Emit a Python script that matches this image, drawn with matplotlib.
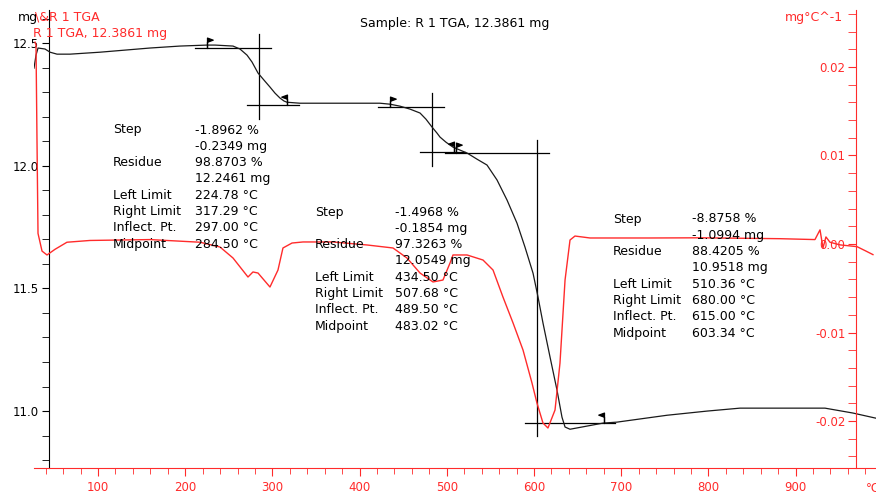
import matplotlib
matplotlib.use("Agg")
import matplotlib.pyplot as plt
from matplotlib.path import Path
from matplotlib.ticker import MultipleLocator, FixedLocator, FuncFormatter

# TGA curve (mass, mg)
temp_tga = [26.6, 28.9, 31.2, 39.2, 45.0, 53.0, 67.9, 102.3, 159.6, 194.0,
            225.0, 234.2, 254.8, 262.8, 270.9, 276.6, 283.5, 290.4, 297.2,
            303.0, 308.7, 313.3, 316.7, 331.6, 423.4, 434.9, 446.3, 457.8,
            469.3, 476.1, 483.0, 488.8, 492.2, 499.1, 507.1, 515.1, 523.2,
            534.6, 546.1, 557.6, 569.1, 580.5, 589.7, 598.9, 604.6, 610.3,
            618.4, 626.4, 632.1, 635.6, 641.3, 679.1, 695.2, 752.5, 798.4,
            836.2, 905.0, 933.7, 965.8, 992.2]
mass_tga = [12.398, 12.451, 12.480, 12.476, 12.463, 12.455, 12.455, 12.463,
            12.480, 12.488, 12.492, 12.492, 12.488, 12.476, 12.451, 12.423,
            12.378, 12.349, 12.321, 12.296, 12.276, 12.264, 12.259, 12.255,
            12.255, 12.251, 12.243, 12.231, 12.215, 12.190, 12.158, 12.133,
            12.117, 12.096, 12.076, 12.064, 12.052, 12.027, 12.003, 11.942,
            11.860, 11.766, 11.668, 11.562, 11.465, 11.359, 11.220, 11.085,
            10.975, 10.935, 10.926, 10.951, 10.955, 10.983, 11.000, 11.012,
            11.012, 11.012, 10.992, 10.971]

# DTG curve (mg/°C)
temp_dtg = [27.8, 28.9, 30.0, 31.2, 35.8, 41.5, 50.7, 64.4, 90.8, 159.6,
            217.0, 239.9, 254.8, 272.0, 277.7, 283.5, 297.2, 306.4, 312.1,
            322.5, 335.1, 369.5, 408.5, 438.3, 454.3, 469.3, 484.2, 495.6,
            503.7, 507.1, 523.2, 541.5, 553.0, 564.4, 576.0, 587.4, 597.7,
            603.4, 610.3, 616.0, 624.1, 629.8, 635.6, 641.3, 647.0, 664.2,
            733.0, 790.4, 882.1, 922.2, 928.0, 931.4, 934.8, 939.4, 950.9,
            970.4, 980.7, 988.7]
dtg = [0.0228, 0.0225, 0.012, 0.0012, -0.0008, -0.00124, -0.0006, 0.0002,
       0.0004, 0.0005, 0.0002, -0.00034, -0.00158, -0.00373, -0.00316,
       -0.00328, -0.00486, -0.00294, -0.00045, 0.00011, 0.00023, 0.00023,
       -0.00011, -0.00045, -0.00158, -0.00328, -0.00429, -0.00407, -0.00215,
       -0.00124, -0.00124, -0.00181, -0.00294, -0.00599, -0.00893, -0.01198,
       -0.01571, -0.01797, -0.02023, -0.02079, -0.01876, -0.01345, -0.00407,
       0.00045, 0.0009, 0.00068, 0.00068, 0.0007, 0.0006, 0.0005, 0.0016,
       -0.00045, 0.0008, 0.0002, -0.0001, -0.0003, -0.0008, -0.0012]

# step analysis results
step_left = [224.78, 434.50, 510.36]
step_right = [317.29, 507.68, 680.00]
step_mid = [284.50, 483.02, 603.34]
step_loss = [0.2349, 0.1854, 1.0994]
step_residue = [12.2461, 12.0549, 10.9518]

row_labels = ["Step", "", "Residue", "", "Left Limit", "Right Limit",
              "Inflect. Pt.", "Midpoint"]
block1 = ["-1.8962 %", "-0.2349 mg", "98.8703 %", "12.2461 mg",
          "224.78 \u00b0C", "317.29 \u00b0C", "297.00 \u00b0C", "284.50 \u00b0C"]
block2 = ["-1.4968 %", "-0.1854 mg", "97.3263 %", "12.0549 mg",
          "434.50 \u00b0C", "507.68 \u00b0C", "489.50 \u00b0C", "483.02 \u00b0C"]
block3 = ["-8.8758 %", "-1.0994 mg", "88.4205 %", "10.9518 mg",
          "510.36 \u00b0C", "680.00 \u00b0C", "615.00 \u00b0C", "603.34 \u00b0C"]

RED = "#ff2b2b"
W, H = 876, 496

fig = plt.figure(figsize=(8.76, 4.96), dpi=100)
ax = fig.add_axes([34 / W, 28 / H, 842 / W, 458 / H])
ax.set_xlim(26.6, 992.2)
ax.set_ylim(10.768, 12.635)
ax2 = ax.twinx()
ax2.set_ylim(-0.02531, 0.02644)

ax.plot(temp_tga, mass_tga, color="#1a1a1a", lw=0.9, zorder=3)
ax2.plot(temp_dtg, dtg, color=RED, lw=1.0)

# construction lines of the step evaluation
for i in range(3):
    upper = step_residue[i] + step_loss[i]
    low = step_residue[i]
    ax.plot([step_left[i] - 13, step_mid[i] + 14], [upper, upper],
            color="black", lw=0.9)
    ax.plot([step_mid[i] - 14, step_right[i] + 13], [low, low],
            color="black", lw=0.9)
    ax.plot([step_mid[i], step_mid[i]], [upper + 0.055, low - 0.055],
            color="black", lw=0.9)

flag_r = Path([(0, 0), (0, 1), (0.55, 0.8), (0, 0.6), (0, 0)],
              [Path.MOVETO, Path.LINETO, Path.LINETO, Path.LINETO,
               Path.CLOSEPOLY])
flag_l = Path([(0, 0), (0, 1), (-0.55, 0.8), (0, 0.6), (0, 0)],
              [Path.MOVETO, Path.LINETO, Path.LINETO, Path.LINETO,
               Path.CLOSEPOLY])
for i in range(3):
    ax.plot(step_left[i], step_residue[i] + step_loss[i], marker=flag_r,
            ms=15, color="black", mew=0.9, zorder=4)
    ax.plot(step_right[i], step_residue[i], marker=flag_l,
            ms=15, color="black", mew=0.9, zorder=4)

# spines
ax.spines["top"].set_visible(False)
ax.spines["right"].set_visible(False)
ax.spines["left"].set_position(("data", 43.8))
ax.spines["left"].set_color("black")
ax.spines["bottom"].set_color(RED)
for s in ["top", "right", "bottom"]:
    ax2.spines[s].set_visible(False)
ax2.spines["left"].set_visible(True)
ax2.spines["left"].set_position(("data", 969.3))
ax2.spines["left"].set_color(RED)
ax2.yaxis.tick_left()

# ticks
ax.xaxis.set_major_locator(MultipleLocator(100))
ax.xaxis.set_minor_locator(MultipleLocator(20))
ax.yaxis.set_major_locator(FixedLocator([11.0, 11.5, 12.0, 12.5]))
ax.yaxis.set_minor_locator(MultipleLocator(0.1))
ax.yaxis.set_major_formatter(FuncFormatter(lambda v, p: f"{v:.1f}"))
ax2.yaxis.set_major_locator(FixedLocator([-0.02, -0.01, 0.0, 0.01, 0.02]))
ax2.yaxis.set_minor_locator(MultipleLocator(0.002))
ax2.yaxis.set_major_formatter(
    FuncFormatter(lambda v, p: "0.00" if abs(v) < 1e-9 else f"{v:.2f}"))

ax.tick_params(axis="x", which="both", direction="out", colors=RED,
               labelsize=8.5, pad=4)
ax.tick_params(axis="x", which="major", length=5.5)
ax.tick_params(axis="x", which="minor", length=4)
ax.tick_params(axis="y", which="both", direction="out", length=5,
               colors="black", labelsize=8.5, pad=2)
ax2.tick_params(axis="y", which="both", direction="out", length=5.5,
                colors=RED, labelsize=8.5, pad=2, left=True, labelleft=True,
                right=False, labelright=False)

# header texts
fig.text(18 / W, 1 - 17 / H, "mg", color="black", fontsize=9, va="center")
fig.text(35 / W, 1 - 17 / H, "\\&R 1 TGA", color=RED, fontsize=9,
         va="center")
fig.text(33 / W, 1 - 33 / H, "R 1 TGA, 12.3861 mg", color=RED, fontsize=9,
         va="center")
fig.text(455 / W, 1 - 24 / H, "Sample: R 1 TGA, 12.3861 mg", color="black",
         fontsize=9, va="center", ha="center")
fig.text(843 / W, 1 - 18 / H, "mg\u00b0C^-1", color=RED, fontsize=9,
         va="center", ha="right")
fig.text(866 / W, 1 - 488 / H, "\u00b0C", color=RED, fontsize=8.5,
         va="center", ha="left")

# result blocks
blocks = [(113, 195, 130, block1), (315, 395, 212, block2),
          (613, 692, 219, block3)]
for lx, vx, y0, vals in blocks:
    for k in range(8):
        y = y0 + k * 16.3
        if row_labels[k]:
            fig.text(lx / W, 1 - y / H, row_labels[k], fontsize=9,
                     color="black", va="center")
        fig.text(vx / W, 1 - y / H, vals[k], fontsize=9, color="black",
                 va="center")

fig.savefig("out.png", dpi=100)
